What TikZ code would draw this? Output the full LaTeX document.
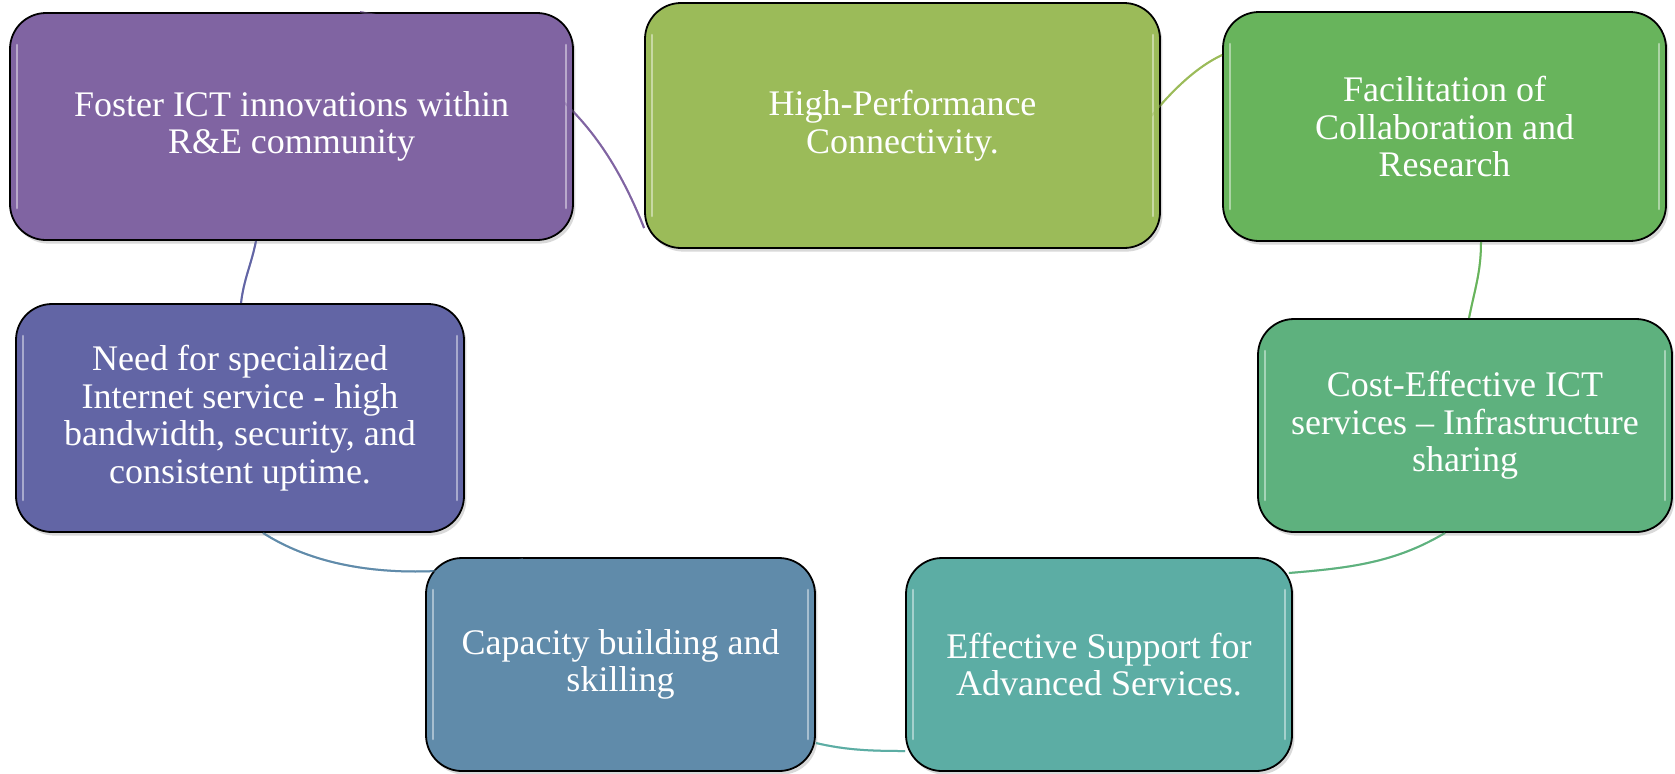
\documentclass[tikz,border=0pt]{standalone}
\usepackage{fontspec}
\setmainfont{Liberation Serif}
\usetikzlibrary{calc,backgrounds,shadows}
\definecolor{fosterpurple}{RGB}{128,100,162}
\definecolor{hpcolive}{RGB}{155,187,89}
\definecolor{collabgreen}{RGB}{104,180,92}
\definecolor{costgreen}{RGB}{94,177,126}
\definecolor{supportteal}{RGB}{92,173,164}
\definecolor{capacityblue}{RGB}{96,139,170}
\definecolor{needblue}{RGB}{98,101,165}
\tikzset{
    every node/.style={font=\fontsize{18}{18.8}\selectfont},
    cardbox/.style={draw=black, line width=0.9pt, rounded corners=18pt, text=white, align=center, inner sep=0pt,
        drop shadow={shadow xshift=1.2pt, shadow yshift=-1.8pt, opacity=.3},
        path picture={
            \draw[white, opacity=.45, line width=1.3pt, line cap=round]
                ([shift={(3.5pt,-16pt)}]path picture bounding box.north west) -- ([shift={(3.5pt,16pt)}]path picture bounding box.south west)
                ([shift={(-3.5pt,-16pt)}]path picture bounding box.north east) -- ([shift={(-3.5pt,16pt)}]path picture bounding box.south east);
        }},
    link/.style={line width=1pt},
}
% the seven arcs of the cycle, box to box
\newcommand{\cyclelinks}{
    \draw[link, fosterpurple] ($(foster.north)+(68.5,0)$) .. controls +(180,30) and +(-40,-100) .. ($(hpc.west)+(0,102.5)$);
    \draw[link, hpcolive] ($(hpc.south)+(165.5,-5)$) .. controls +(40,-70) and +(-60,28) .. ($(collab.west)+(0,-71.5)$);
    \draw[link, collabgreen] ($(collab.south)+(36.5,0)$) .. controls +(0,30) and +(6,-30) .. ($(cost.north)+(4,0)$);
    \draw[link, costgreen] ($(cost.south)+(-20,0)$) .. controls +(-50,30) and +(60,-5) .. ($(support.east)+(-4,-91.5)$);
    \draw[link, supportteal] ($(support.west)+(0,86.5)$) .. controls +(-35,0) and +(30,7) .. ($(capacity.east)+(0,78.5)$);
    \draw[link, capacityblue] ($(capacity.north)+(-97.5,2)$) .. controls +(-90,20) and +(70,45) .. ($(need.south)+(23,0)$);
    \draw[link, needblue] ($(need.north)+(1,0)$) .. controls +(3,-25) and +(-5,25) .. ($(foster.south)+(-35.5,0)$);
}

\begin{document}
\begin{tikzpicture}[x=0.5pt, y=-0.5pt]
\useasboundingbox (0,0) rectangle (1675,773);
% boxes, clockwise from the top left
\node[cardbox, fill=fosterpurple, minimum width=281.5pt, minimum height=113.5pt] (foster) at (291.5,126.5) {Foster ICT innovations within\\R\&E community};
\node[cardbox, fill=hpcolive, minimum width=257.5pt, minimum height=122.5pt] (hpc) at (902.5,125.5) {High-Performance\\Connectivity.};
\node[cardbox, fill=collabgreen, minimum width=221.5pt, minimum height=114.5pt] (collab) at (1444.5,126.5) {Facilitation of\\Collaboration and\\Research};
\node[cardbox, fill=costgreen, minimum width=207pt, minimum height=106.5pt] (cost) at (1465,425.5) {Cost-Effective ICT\\services – Infrastructure\\sharing};
\node[cardbox, fill=supportteal, minimum width=193pt, minimum height=106.5pt] (support) at (1099,664.5) {Effective Support for\\Advanced Services.};
\node[cardbox, fill=capacityblue, minimum width=194.5pt, minimum height=106.5pt] (capacity) at (620.5,664.5) {Capacity building and\\skilling};
\node[cardbox, fill=needblue, minimum width=224pt, minimum height=114pt] (need) at (240,418) {Need for specialized\\Internet service - high\\bandwidth, security, and\\consistent uptime.};
% arcs behind the boxes, and a faint copy over them
\begin{scope}[on background layer]
\cyclelinks
\end{scope}
\begin{scope}[opacity=.45]
\cyclelinks
\end{scope}
\end{tikzpicture}
\end{document}
